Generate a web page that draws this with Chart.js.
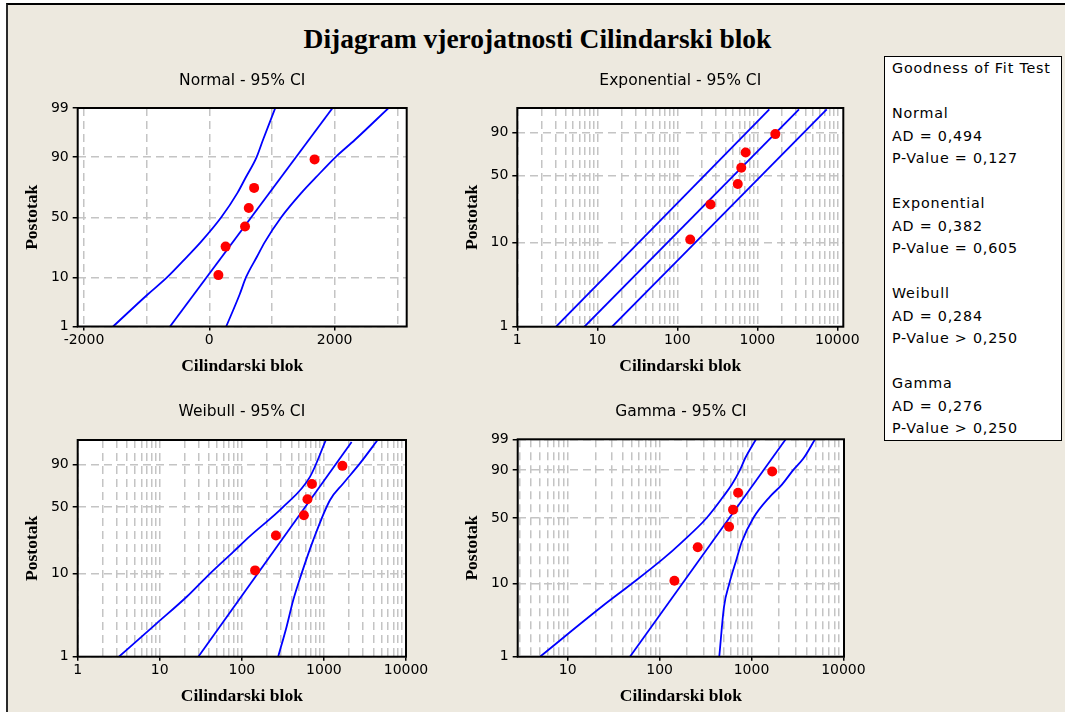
<!DOCTYPE html>
<html>
<head>
<meta charset="utf-8">
<script src="https://cdn.jsdelivr.net/npm/chart.js@4.4.1/dist/chart.umd.min.js"></script>
<style>
  body { margin: 0; background: #fff; width: 1065px; height: 712px; overflow: hidden; position: relative; font-family: "DejaVu Sans", sans-serif; }
  #frame { position: absolute; left: 6px; top: 3px; width: 1100px; height: 760px; background: #ede9df; border-top: 2px solid #000; border-left: 2px solid #2a2a2a; }
  #title { position: absolute; left: 0; top: 22px; width: 1075px; text-align: center; font: bold 27.5px/34px "Liberation Serif", "Times New Roman", serif; }
  canvas { position: absolute; }
  #gof { position: absolute; left: 884px; top: 56px; width: 169px; height: 383px; background: #fff; border: 1px solid #000; padding-left: 7px; font-size: 14.3px; line-height: 22.5px; white-space: pre; letter-spacing: 0.8px; }
</style>
</head>
<body>
<div id="frame"></div>
<div id="title">Dijagram vjerojatnosti Cilindarski blok</div>
<canvas id="cNormal" width="440" height="320" style="left:0px;top:60px"></canvas>
<canvas id="cExp" width="440" height="320" style="left:440px;top:60px"></canvas>
<canvas id="cWeibull" width="440" height="320" style="left:0px;top:392px"></canvas>
<canvas id="cGamma" width="440" height="320" style="left:440px;top:392px"></canvas>
<div id="gof"></div>
<script>
// podaci (ocitano sa slike)
const failTimes = [145, 260, 570, 630, 715, 1680];
const plotPercents = [10.9, 26.6, 42.2, 57.8, 73.4, 89.1];

const normalFitX = [-627, 1967];
const normalFitP = [1, 99];
const normalBandP = [1, 5, 10, 20, 30, 50, 70, 80, 90, 95, 99];
const normalLowerX = [-1535, -984, -675, -356, -133, 191, 452, 579, 755, 856, 1053];
const normalUpperX = [270, 484, 585, 760, 888, 1148, 1473, 1696, 2015, 2321, 2860];

const expLineP = [1, 98.8];
const expFitX = [6.9, 3319];
const expLowerX = [3.05, 1413];
const expUpperX = [15.3, 7373];

const weibullFitP = [1, 98.7];
const weibullFitX = [29.5, 2175];
const weibullLowerP = [1, 2.55, 5.33, 9.18, 17.7, 26.2, 50.1, 80.3, 99];
const weibullLowerX = [3.18, 9.17, 21.3, 37.3, 78.6, 125.5, 319, 676, 1057];
const weibullUpperP = [1, 2.32, 4.87, 10.06, 23.8, 56.8, 74.0, 90.7, 99];
const weibullUpperX = [277, 351, 423, 535, 741, 1183, 1718, 2747, 4508];

const gammaFitP = [1, 99];
const gammaFitX = [47.6, 2355];
const gammaBandP = [1, 5, 10, 20, 30, 50, 70, 80, 90, 95, 99];
const gammaLowerX = [5.0, 23.4, 49.7, 109.7, 174, 325, 493, 609, 750, 850, 1119];
const gammaUpperX = [446, 502, 573, 690, 782, 1047, 1589, 2132, 2853, 3664, 4910];

// osi
const normalXTicks = [-2000, -1000, 0, 1000, 2000, 3000];
const normalXLabels = [-2000, 0, 2000];
const logDecades = [1, 10, 100, 1000, 10000];
const probTicksFull = [1, 10, 50, 90, 99];
const probTicksShort = [1, 10, 50, 90];

const panelTitles = ['Normal - 95% CI', 'Exponential - 95% CI', 'Weibull - 95% CI', 'Gamma - 95% CI'];
const gofTitle = 'Goodness of Fit Test';
const gofNames = ['Normal', 'Exponential', 'Weibull', 'Gamma'];
const gofAD = ['0,494', '0,382', '0,284', '0,276'];
const gofP = ['= 0,127', '= 0,605', '> 0,250', '> 0,250'];

const SERIF = '"Liberation Serif", "Times New Roman", serif';
Chart.defaults.font.family = '"DejaVu Sans", sans-serif';
Chart.defaults.color = '#000';

// skale vjerojatnosnog papira
function probit(p) {
  const a = [-3.969683028665376e+01, 2.209460984245205e+02, -2.759285104469687e+02, 1.383577518672690e+02, -3.066479806614716e+01, 2.506628277459239e+00];
  const b = [-5.447609879822406e+01, 1.615858368580409e+02, -1.556989798598866e+02, 6.680131188771972e+01, -1.328068155288572e+01];
  const c = [-7.784894002430293e-03, -3.223964580411365e-01, -2.400758277161838e+00, -2.549732539343734e+00, 4.374664141464968e+00, 2.938163982698783e+00];
  const d = [7.784695709041462e-03, 3.224671290700398e-01, 2.445134137142996e+00, 3.754408661907416e+00];
  const pl = 0.02425;
  if (p < pl) {
    const q = Math.sqrt(-2 * Math.log(p));
    return (((((c[0]*q+c[1])*q+c[2])*q+c[3])*q+c[4])*q+c[5]) / ((((d[0]*q+d[1])*q+d[2])*q+d[3])*q+1);
  }
  if (p > 1 - pl) {
    const q = Math.sqrt(-2 * Math.log(1 - p));
    return -(((((c[0]*q+c[1])*q+c[2])*q+c[3])*q+c[4])*q+c[5]) / ((((d[0]*q+d[1])*q+d[2])*q+d[3])*q+1);
  }
  const q = p - 0.5, r = q * q;
  return (((((a[0]*r+a[1])*r+a[2])*r+a[3])*r+a[4])*r+a[5])*q / (((((b[0]*r+b[1])*r+b[2])*r+b[3])*r+b[4])*r+1);
}

function gamma2Quantile(p) {
  let lo = 0, hi = 60;
  for (let i = 0; i < 80; i++) {
    const m = (lo + hi) / 2;
    if (1 - Math.exp(-m) * (1 + m) < p) lo = m; else hi = m;
  }
  return (lo + hi) / 2;
}

const paper = {
  normal: v => probit(v / 100),
  weibull: v => Math.log(-Math.log(1 - v / 100)),
  gamma: v => Math.log(gamma2Quantile(v / 100)),
};

class ProbabilityScale extends Chart.Scale {
  parse(raw) { return +raw; }
  determineDataLimits() {
    this.min = this.options.min;
    this.max = this.options.max;
  }
  buildTicks() {
    return this.options.tickValues.map(v => ({ value: v }));
  }
  configure() {
    super.configure();
    this._tf = paper[this.options.paper];
    this._t0 = this._tf(this.min);
    this._t1 = this._tf(this.max);
  }
  getPixelForValue(v) {
    return this.getPixelForDecimal((this._tf(v) - this._t0) / (this._t1 - this._t0));
  }
  getValueForPixel(px) {
    const d = this.getDecimalForPixel(px);
    let lo = this.min, hi = this.max;
    for (let i = 0; i < 50; i++) {
      const m = (lo + hi) / 2;
      if ((this._tf(m) - this._t0) / (this._t1 - this._t0) < d) lo = m; else hi = m;
    }
    return (lo + hi) / 2;
  }
}
ProbabilityScale.id = 'probability';
ProbabilityScale.defaults = {};
Chart.register(ProbabilityScale);

const framePlugin = {
  id: 'plotFrame',
  beforeDraw(chart) {
    const a = chart.chartArea, ctx = chart.ctx;
    ctx.save();
    ctx.fillStyle = '#fff';
    ctx.fillRect(a.left, a.top, a.right - a.left, a.bottom - a.top);
    ctx.restore();
  },
  afterDraw(chart) {
    const a = chart.chartArea, ctx = chart.ctx;
    ctx.save();
    ctx.strokeStyle = '#000';
    ctx.lineWidth = 2;
    ctx.strokeRect(a.left, a.top, a.right - a.left, a.bottom - a.top);
    ctx.restore();
  }
};

function pts(xs, ps) {
  return xs.map((x, i) => ({ x: x, y: ps[i] }));
}

function lineSet(data, smooth) {
  const ds = { data: data, showLine: true, borderColor: '#0000ff', borderWidth: 1.8, pointRadius: 0, fill: false, tension: 0 };
  if (smooth) ds.cubicInterpolationMode = 'monotone';
  return ds;
}

function gridOpts(len) {
  return {
    color: '#c4c4c4',
    lineWidth: 1.5,
    tickLength: len,
    tickWidth: 1.5,
    tickColor: ctx => (ctx.tick && ctx.tick.label !== '' ? '#000' : 'rgba(0,0,0,0)'),
  };
}

function logXScale(min, max) {
  return {
    type: 'logarithmic',
    min: min,
    max: max,
    afterBuildTicks: axis => {
      const t = [];
      logDecades.forEach(dec => {
        for (let m = 1; m <= 9; m++) {
          const v = m * dec;
          if (v >= min && v <= max) t.push({ value: v });
        }
      });
      axis.ticks = t;
    },
    ticks: { callback: v => (logDecades.includes(v) ? String(v) : '') },
  };
}

function panel(id, o) {
  const xs = o.xScale;
  new Chart(document.getElementById(id), {
    type: 'scatter',
    data: {
      datasets: [
        { data: pts(failTimes, plotPercents), pointRadius: 5, pointBackgroundColor: '#ff0000', pointBorderWidth: 0 },
        lineSet(o.fit, false),
        lineSet(o.lower, true),
        lineSet(o.upper, true),
      ],
    },
    options: {
      responsive: false,
      animation: false,
      events: [],
      devicePixelRatio: 1,
      layout: { padding: { left: 0, top: 0, bottom: 0, right: o.padRight } },
      plugins: {
        legend: { display: false },
        tooltip: { enabled: false },
        title: {
          display: true,
          text: o.title,
          fullSize: false,
          font: { size: 15.5, weight: 'normal' },
          padding: { top: o.titleTop, bottom: o.titleBottom },
        },
      },
      scales: {
        x: {
          type: xs.type,
          min: xs.min,
          max: xs.max,
          bounds: 'data',
          afterBuildTicks: xs.afterBuildTicks,
          afterFit: s => { s.height = o.xHeight; },
          grid: gridOpts(4),
          border: { display: false, dash: [8, 5] },
          ticks: { autoSkip: false, maxRotation: 0, minRotation: 0, padding: 1, font: { size: 14 }, callback: xs.ticks.callback },
          title: { display: true, text: 'Cilindarski blok', font: { family: SERIF, size: 17.5, weight: 'bold' }, padding: { top: 0, bottom: o.xTitlePad } },
        },
        y: {
          type: 'probability',
          paper: o.paper,
          min: 1,
          max: 99,
          tickValues: o.yTicks,
          afterFit: s => { s.width = o.yWidth; },
          grid: gridOpts(5),
          border: { display: false, dash: [8, 5] },
          ticks: { padding: 4, font: { size: 14 } },
          title: { display: true, text: 'Postotak', font: { family: SERIF, size: 17.5, weight: 'bold' }, padding: { top: o.yTitlePad, bottom: 0 } },
        },
      },
    },
    plugins: [framePlugin],
  });
}

panel('cNormal', {
  title: panelTitles[0], paper: 'normal', yTicks: probTicksFull,
  xScale: {
    type: 'linear', min: -2100, max: 3150,
    afterBuildTicks: axis => { axis.ticks = normalXTicks.map(v => ({ value: v })); },
    ticks: { callback: v => (normalXLabels.includes(v) ? String(v) : '') },
  },
  fit: pts(normalFitX, normalFitP),
  lower: pts(normalLowerX, normalBandP),
  upper: pts(normalUpperX, normalBandP),
  yWidth: 77.7, padRight: 33.3, titleTop: 12, titleBottom: 17.4, xHeight: 53.5, xTitlePad: 2.8, yTitlePad: 21.8,
});

panel('cExp', {
  title: panelTitles[1], paper: 'weibull', yTicks: probTicksShort,
  xScale: logXScale(1, 11885),
  fit: pts(expFitX, expLineP),
  lower: pts(expLowerX, expLineP),
  upper: pts(expUpperX, expLineP),
  yWidth: 77.3, padRight: 36.7, titleTop: 12, titleBottom: 17.4, xHeight: 53.3, xTitlePad: 2.8, yTitlePad: 21.5,
});

panel('cWeibull', {
  title: panelTitles[2], paper: 'weibull', yTicks: probTicksShort,
  xScale: logXScale(1, 10000),
  fit: pts(weibullFitX, weibullFitP),
  lower: pts(weibullLowerX, weibullLowerP),
  upper: pts(weibullUpperX, weibullUpperP),
  yWidth: 77.7, padRight: 34, titleTop: 10.7, titleBottom: 18.7, xHeight: 55.3, xTitlePad: 4.8, yTitlePad: 21.8,
});

panel('cGamma', {
  title: panelTitles[3], paper: 'gamma', yTicks: probTicksFull,
  xScale: logXScale(2.86, 10150),
  fit: pts(gammaFitX, gammaFitP),
  lower: pts(gammaLowerX, gammaBandP),
  upper: pts(gammaUpperX, gammaBandP),
  yWidth: 77.7, padRight: 36, titleTop: 10.7, titleBottom: 18, xHeight: 55.3, xTitlePad: 5.5, yTitlePad: 21.8,
});

// Goodness of fit okvir
let gofLines = [gofTitle];
gofNames.forEach((name, i) => {
  gofLines.push('', name, 'AD = ' + gofAD[i], 'P-Value ' + gofP[i]);
});
document.getElementById('gof').textContent = gofLines.join('\n');
</script>
</body>
</html>
